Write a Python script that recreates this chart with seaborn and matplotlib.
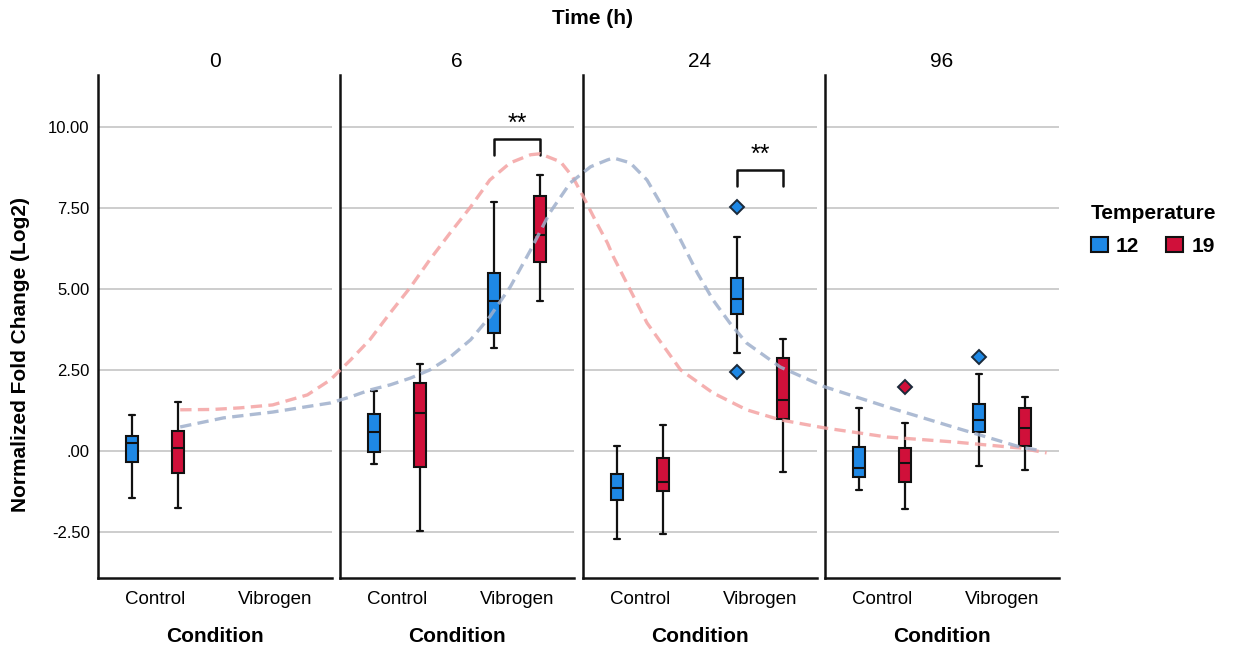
import matplotlib
matplotlib.use("Agg")
import matplotlib.pyplot as plt
import seaborn as sns
import numpy as np
import pandas as pd
from matplotlib.patches import Patch

# ---------------- data ----------------
times = ["0", "6", "24", "96"]
conditions = ["Control", "Vibrogen"]
temperatures = ["12", "19"]

# box statistics, ordered (time, condition): 0C,0V,6C,6V,24C,24V,96C,96V
t12_low  = [-1.46, None, -0.41, 3.17, -2.71, 3.01, -1.22, -0.47]
t12_q1   = [-0.33, None, -0.02, 3.65, -1.51, 4.23, -0.79, 0.59]
t12_med  = [0.26, None, 0.57, 4.63, -1.13, 4.68, -0.53, 0.96]
t12_q3   = [0.46, None, 1.13, 5.48, -0.70, 5.33, 0.13, 1.44]
t12_high = [1.11, None, 1.86, 7.68, 0.15, 6.61, 1.32, 2.36]
t12_out  = [[], [], [], [], [], [7.52, 2.43], [], [2.91]]

t19_low  = [-1.77, None, -2.47, 4.64, -2.57, -0.66, -1.79, -0.59]
t19_q1   = [-0.69, None, -0.48, 5.82, -1.23, 1.00, -0.97, 0.15]
t19_med  = [0.09, None, 1.16, 6.67, -0.95, 1.57, -0.38, 0.70]
t19_q3   = [0.62, None, 2.09, 7.87, -0.23, 2.86, 0.08, 1.33]
t19_high = [1.52, None, 2.69, 8.51, 0.81, 3.45, 0.87, 1.66]
t19_out  = [[], [], [], [], [], [], [1.97], []]

# trend curves (x = position across the four panels, in condition units)
trend19_x = [0.21, 0.48, 0.71, 0.98, 1.27, 1.46, 1.63, 1.79, 1.96, 2.13, 2.29, 2.46, 2.63,
             2.79, 2.96, 3.13, 3.21, 3.38, 3.48, 3.57, 3.68, 3.77, 3.82, 3.96, 4.10, 4.38,
             4.65, 4.93, 5.21, 5.58, 6.10, 6.65, 7.21, 7.43]
trend19_y = [1.27, 1.28, 1.33, 1.42, 1.73, 2.19, 2.81, 3.43, 4.26, 5.06, 5.90, 6.73, 7.53,
             8.36, 8.89, 9.14, 9.17, 8.92, 8.46, 7.84, 7.04, 6.42, 5.99, 4.97, 3.95, 2.50,
             1.79, 1.27, 0.96, 0.71, 0.43, 0.28, 0.09, -0.06]
trend12_x = [0.21, 0.57, 0.98, 1.46, 1.63, 1.79, 1.96, 2.13, 2.29, 2.46, 2.63, 2.79, 2.96,
             3.13, 3.29, 3.46, 3.63, 3.77, 3.82, 3.96, 4.10, 4.23, 4.38, 4.52, 4.65, 4.79,
             4.93, 5.21, 5.58, 6.10, 6.65, 6.93, 7.21, 7.35]
trend12_y = [0.74, 1.02, 1.20, 1.48, 1.67, 1.88, 2.04, 2.25, 2.50, 2.90, 3.43, 4.14, 5.06,
             6.20, 7.35, 8.27, 8.77, 8.98, 9.04, 8.89, 8.36, 7.53, 6.51, 5.49, 4.66, 3.95,
             3.33, 2.59, 1.98, 1.36, 0.74, 0.43, 0.12, 0.03]

# significance brackets (Vibrogen, 12 vs 19)
sig_times = ["6", "24"]
sig_top = [9.62, 8.67]
sig_leg = [9.14, 8.16]
sig_label = ["**", "**"]

yticks = [-2.5, 0, 2.5, 5, 7.5, 10]
ytick_labels = ["-2.50", ".00", "2.50", "5.00", "7.50", "10.00"]

# ---------------- style ----------------
sns.set_style("white")
plt.rcParams["font.family"] = ["Liberation Sans", "DejaVu Sans"]
plt.rcParams["text.color"] = "black"

colors = {"12": "#1E88E5", "19": "#D0103A"}
trend_colors = {"12": "#9FB0CC", "19": "#F4A3A3"}
offsets = {"12": -0.19, "19": 0.19}

W, H = 1233, 649
fig = plt.figure(figsize=(W / 100, H / 100), dpi=100)

panel_left_px = [98, 340, 583, 825]
panel_w_px = 234
top_px, bot_px = 75, 578
ylim = (-3.92, 11.6)
xlim_local = (-0.475, 1.475)

stats_by_temp = {
    "12": (t12_low, t12_q1, t12_med, t12_q3, t12_high, t12_out),
    "19": (t19_low, t19_q1, t19_med, t19_q3, t19_high, t19_out),
}

axes = []
for pi, t in enumerate(times):
    ax = fig.add_axes([panel_left_px[pi] / W, 1 - bot_px / H,
                       panel_w_px / W, (bot_px - top_px) / H])
    axes.append(ax)
    ax.set_xlim(*xlim_local)
    ax.set_ylim(*ylim)
    ax.set_yticks(yticks)
    ax.yaxis.grid(True, color="#c9c9c9", lw=1.3)
    ax.set_axisbelow(True)
    for temp in temperatures:
        lo, q1, med, q3, hi, out = stats_by_temp[temp]
        bstats, pos = [], []
        for ci, c in enumerate(conditions):
            k = pi * 2 + ci
            if med[k] is None:
                continue
            bstats.append(dict(whislo=lo[k], q1=q1[k], med=med[k], q3=q3[k],
                               whishi=hi[k], fliers=out[k]))
            pos.append(ci + offsets[temp])
        ax.bxp(bstats, positions=pos, widths=0.1, patch_artist=True,
               boxprops=dict(facecolor=colors[temp], edgecolor="#111111", lw=1.5),
               medianprops=dict(color="#111111", lw=1.5),
               whiskerprops=dict(color="#111111", lw=1.6),
               capprops=dict(color="#111111", lw=1.6),
               flierprops=dict(marker="D", markersize=7, markerfacecolor=colors[temp],
                               markeredgecolor="#1b2a3a", markeredgewidth=1.4))
    ax.set_xticks(range(len(conditions)))
    ax.set_xticklabels(conditions, fontsize=13.5, color="black")
    ax.tick_params(axis="x", length=0, pad=9)
    ax.tick_params(axis="y", length=0, pad=6)
    if pi == 0:
        ax.set_yticklabels(ytick_labels, fontsize=12, color="black")
    else:
        ax.set_yticklabels([])
    ax.set_xlabel("Condition", fontsize=15, fontweight="bold", labelpad=14, color="black")
    ax.set_title(t, fontsize=15, pad=6, color="black")
    sns.despine(ax=ax, top=True, right=True)
    for s in ["left", "bottom"]:
        ax.spines[s].set_color("#111111")
        ax.spines[s].set_linewidth(1.8)
    if t in sig_times:
        j = sig_times.index(t)
        xa, xb = 1 + offsets["12"], 1 + offsets["19"]
        ax.plot([xa, xa, xb, xb], [sig_leg[j], sig_top[j], sig_top[j], sig_leg[j]],
                color="#111111", lw=1.8)
        ax.text((xa + xb) / 2, sig_top[j] + 0.1, sig_label[j], ha="center", va="bottom",
                fontsize=18)

# overlay axes for trend curves spanning all panels
span_px = panel_left_px[-1] + panel_w_px - panel_left_px[0]
ov = fig.add_axes([panel_left_px[0] / W, 1 - bot_px / H, span_px / W, (bot_px - top_px) / H])
ov.set_xlim(xlim_local[0], xlim_local[0] + span_px / 120)
ov.set_ylim(*ylim)
ov.patch.set_alpha(0)
ov.axis("off")
trend_df = pd.concat([
    pd.DataFrame({"x": trend19_x, "y": trend19_y, "Temperature": "19"}),
    pd.DataFrame({"x": trend12_x, "y": trend12_y, "Temperature": "12"}),
])
for temp in ["19", "12"]:
    d = trend_df[trend_df["Temperature"] == temp]
    sns.lineplot(data=d, x="x", y="y", ax=ov, color=trend_colors[temp], lw=2.4,
                 linestyle=(0, (3.4, 1.9)), alpha=0.85, estimator=None, sort=False,
                 legend=False)
ov.set_xlabel("")
ov.set_ylabel("")

# titles / labels
fig.text(593 / W, 1 - 19 / H, "Time (h)", ha="center", va="center",
         fontsize=15, fontweight="bold")
fig.text(21 / W, 1 - 355 / H, "Normalized Fold Change (Log2)", ha="center", va="center",
         rotation=90, fontsize=15, fontweight="bold")

handles = [Patch(facecolor=colors[t], edgecolor="#111111", lw=1.5) for t in temperatures]
leg = fig.legend(handles, temperatures, title="Temperature", ncol=2, frameon=False,
                 loc="upper left", bbox_to_anchor=(1091 / W, 1 - 204 / H),
                 borderaxespad=0, borderpad=0, handlelength=0.8, handleheight=0.8,
                 handletextpad=0.4, columnspacing=1.3, labelspacing=0.65, alignment="left",
                 prop={"size": 15, "weight": "bold"},
                 title_fontproperties={"size": 15, "weight": "bold"})

fig.savefig("out.png", dpi=100)
